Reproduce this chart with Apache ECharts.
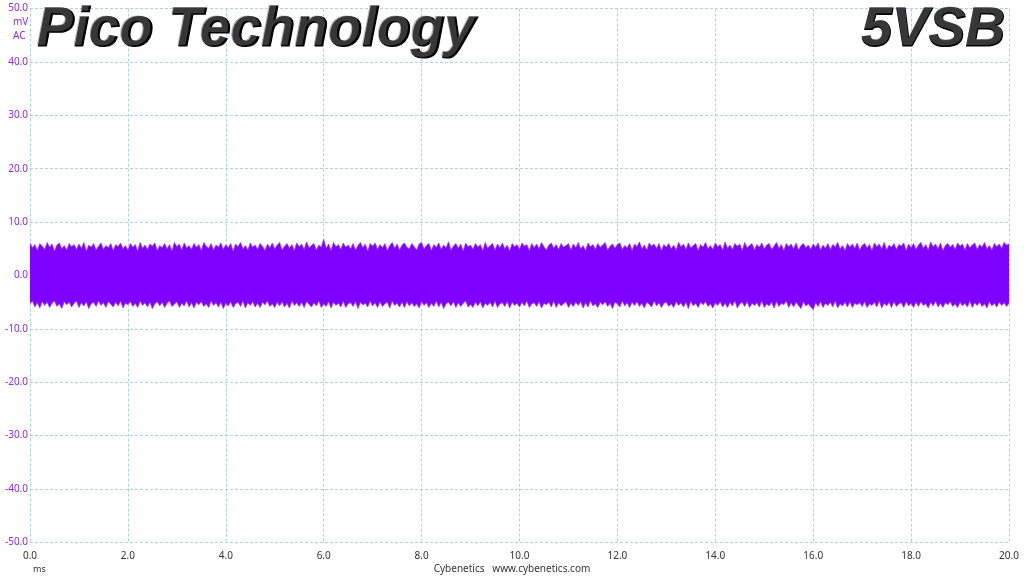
<!DOCTYPE html>
<html>
<head>
<meta charset="utf-8">
<script src="https://cdn.jsdelivr.net/npm/echarts@6/dist/echarts.min.js"></script>
<style>
html,body{margin:0;padding:0;background:#fff;}
#c{width:1024px;height:576px;}
</style>
</head>
<body>
<div id="c"></div>
<script>
// Sample step (ms) of the envelope readings
const stepMs = 0.05;
const xTicks = [0, 2, 4, 6, 8, 10, 12, 14, 16, 18, 20];
const yTicks = [-50, -40, -30, -20, -10, 0, 10, 20, 30, 40, 50];
const titleLeft = 'Pico Technology';
const titleRight = '5VSB';
const yUnit = 'mV';
const yCoupling = 'AC';
const xUnit = 'ms';
const footer = 'Cybenetics   www.cybenetics.com';

// Upper peaks of the ripple (mV), one every 0.05 ms
const upperPeaks = [
6.1,5.2,5.8,4.7,6.0,5.5,4.9,6.2,5.3,5.9,4.6,5.7,6.1,5.0,5.6,4.8,6.0,5.4,5.8,4.9,
5.9,5.1,6.2,4.6,5.7,5.3,6.0,4.8,5.5,6.1,4.9,5.6,5.2,6.0,4.7,5.8,5.4,6.1,5.0,5.6,
4.8,6.0,5.3,5.8,4.6,6.2,5.1,5.7,4.9,5.9,5.5,6.1,4.7,5.6,5.2,6.0,5.0,5.8,4.6,6.2,
5.4,5.9,4.8,6.1,5.2,5.6,4.9,6.0,5.3,5.8,4.7,6.2,5.5,5.1,6.0,4.8,5.7,5.3,6.1,4.9,
5.8,5.2,6.0,4.6,5.9,5.4,6.2,5.0,5.6,4.8,6.1,5.3,5.7,4.9,6.0,5.5,4.7,5.9,5.2,6.1,
5.0,5.7,6.2,4.8,5.5,6.0,5.1,5.8,4.7,6.1,5.4,5.9,4.9,6.3,5.2,5.6,6.0,4.8,5.7,5.3,
6.8,5.1,5.9,4.7,6.2,5.4,5.8,4.9,6.1,5.3,5.7,5.0,6.0,4.8,5.6,6.2,5.2,5.9,4.6,6.0,
5.5,6.1,4.9,5.8,5.2,6.0,4.7,5.6,6.2,5.1,5.9,4.8,5.7,6.1,5.3,5.0,6.0,5.4,4.8,5.9,
6.2,5.0,5.6,6.0,4.7,5.8,5.3,6.1,4.9,5.7,5.2,6.3,4.8,5.5,6.0,5.1,5.9,4.6,6.1,5.4,
5.7,4.9,6.0,5.3,5.8,4.7,6.2,5.1,5.6,6.0,4.8,5.9,5.2,6.1,5.0,5.7,4.6,6.0,5.4,5.8,
4.9,6.1,5.5,5.8,4.7,6.0,5.2,5.9,5.0,6.2,5.4,4.8,5.7,6.1,5.1,5.8,4.9,6.0,5.3,5.6,
6.0,4.8,5.9,5.2,6.2,5.0,5.6,4.7,6.1,5.4,5.8,4.9,6.0,5.3,5.7,6.2,4.8,5.5,5.9,5.1,
5.8,6.1,4.9,5.6,5.2,6.0,4.7,5.9,5.4,6.3,5.0,5.7,4.8,6.1,5.5,5.9,5.1,6.0,4.7,5.8,
5.3,6.0,5.0,5.7,4.8,6.2,5.4,5.9,4.9,6.1,5.2,5.6,6.0,4.7,5.8,5.3,6.2,5.0,5.6,4.9,
6.1,5.4,5.8,4.8,6.3,5.1,5.7,4.9,6.0,5.5,5.9,4.7,6.2,5.2,5.6,6.0,4.8,5.8,5.3,6.1,
5.0,5.7,6.0,4.9,5.5,6.2,5.1,5.8,4.7,6.0,5.4,5.9,5.0,6.1,4.8,5.6,6.0,5.2,5.7,4.9,
5.9,5.3,6.1,4.8,5.7,5.1,6.0,4.9,5.8,5.4,6.2,5.0,5.6,4.7,6.0,5.3,5.9,5.1,6.1,4.8,
5.6,6.0,5.2,5.8,4.7,6.1,5.4,5.9,5.0,6.2,4.8,5.7,5.3,6.0,4.9,5.8,5.5,6.1,4.7,5.9,
5.2,6.0,4.9,5.7,6.2,5.1,5.8,4.8,6.3,5.4,5.9,5.0,6.1,4.7,5.6,6.0,5.3,5.8,4.9,6.1,
5.5,5.9,4.8,6.0,5.2,5.7,6.1,4.9,5.8,5.3,6.2,5.0,5.6,4.8,6.0,5.4,5.9,5.1,6.2,5.7,
5.9
];

// Lower peaks of the ripple (mV), one every 0.05 ms
const lowerPeaks = [
-5.3,-4.8,-5.9,-5.1,-6.1,-4.9,-5.6,-5.0,-6.0,-5.2,-4.8,-5.8,-5.3,-6.2,-4.9,-5.5,-5.0,-5.9,-5.2,-4.8,
-6.0,-5.1,-5.7,-4.9,-6.2,-5.3,-5.0,-5.8,-4.8,-5.6,-5.1,-6.0,-4.9,-5.4,-5.9,-5.0,-5.7,-4.8,-6.1,-5.2,
-5.5,-4.9,-5.8,-5.2,-6.0,-4.8,-5.6,-5.1,-5.9,-5.0,-6.2,-5.3,-4.9,-5.7,-5.0,-6.0,-5.2,-4.8,-5.8,-5.4,
-4.9,-6.0,-5.2,-5.7,-4.8,-5.9,-5.1,-6.1,-5.0,-5.5,-4.9,-5.8,-5.3,-6.0,-4.8,-5.6,-5.1,-5.9,-5.0,-6.2,
-5.2,-5.7,-4.9,-6.0,-5.3,-5.0,-5.8,-4.8,-6.1,-5.1,-5.6,-4.9,-5.9,-5.2,-6.0,-5.0,-5.5,-4.8,-5.8,-5.3,
-6.0,-5.0,-5.7,-4.9,-5.9,-5.2,-6.1,-4.8,-5.6,-5.1,-5.8,-5.0,-6.0,-4.9,-5.4,-5.9,-5.1,-5.7,-4.8,-6.0,
-5.3,-5.8,-4.9,-6.1,-5.0,-5.6,-5.2,-5.9,-4.8,-6.0,-5.3,-5.1,-5.8,-4.9,-6.2,-5.0,-5.5,-5.2,-5.9,-4.8,
-5.7,-5.1,-6.0,-4.9,-5.8,-5.3,-5.0,-6.1,-4.8,-5.6,-5.2,-5.9,-5.0,-6.0,-4.9,-5.7,-5.1,-5.8,-5.3,-6.1,
-4.9,-5.6,-5.1,-6.0,-5.2,-5.8,-4.8,-5.9,-5.0,-6.2,-5.3,-5.0,-5.7,-4.9,-6.0,-5.1,-5.8,-5.2,-4.8,-5.9,
-5.4,-6.0,-5.0,-5.7,-4.9,-6.1,-5.2,-5.6,-5.0,-5.9,-4.8,-6.0,-5.3,-5.1,-5.8,-4.9,-6.1,-5.0,-5.6,-5.2,
-5.9,-5.0,-5.7,-4.8,-6.0,-5.3,-5.1,-5.8,-4.9,-6.1,-5.2,-5.5,-5.0,-5.9,-4.8,-6.0,-5.1,-5.7,-5.3,-4.9,
-6.0,-5.2,-5.8,-5.0,-5.6,-4.9,-6.1,-5.1,-5.9,-4.8,-5.7,-5.3,-6.0,-5.0,-5.5,-4.9,-5.8,-5.2,-6.2,-5.0,
-5.3,-5.9,-4.8,-5.7,-5.1,-6.0,-5.0,-5.6,-4.9,-5.8,-5.2,-6.1,-5.0,-5.4,-5.9,-4.8,-5.7,-5.1,-6.0,-5.2,
-5.0,-5.8,-5.3,-6.0,-4.9,-5.6,-5.1,-5.9,-5.0,-6.2,-4.8,-5.7,-5.2,-6.0,-5.0,-5.5,-4.9,-5.8,-5.3,-6.1,
-5.1,-5.6,-4.9,-5.9,-5.2,-6.0,-5.0,-5.7,-4.8,-6.1,-5.3,-5.0,-5.8,-4.9,-6.0,-5.2,-5.6,-5.1,-5.9,-4.8,
-6.0,-5.3,-5.7,-5.0,-6.1,-4.9,-5.8,-5.2,-5.5,-4.8,-6.0,-5.1,-5.9,-5.0,-5.6,-6.2,-4.9,-5.7,-5.3,-5.9,
-6.4,-5.1,-5.8,-4.9,-6.0,-5.2,-5.6,-5.0,-5.9,-4.8,-6.1,-5.3,-5.7,-5.0,-5.9,-4.9,-6.0,-5.2,-5.5,-5.1,
-5.8,-4.9,-6.0,-5.3,-5.6,-5.0,-5.9,-4.8,-6.1,-5.2,-5.7,-5.0,-6.0,-4.9,-5.8,-5.3,-5.1,-6.0,-4.9,-5.7,
-5.2,-6.0,-5.0,-5.8,-4.9,-5.6,-5.3,-6.1,-5.0,-5.7,-4.8,-5.9,-5.2,-6.0,-5.1,-5.5,-4.9,-5.8,-5.3,-6.0,
-5.0,-5.7,-5.2,-5.9,-4.8,-6.0,-5.1,-5.6,-5.0,-5.8,-5.3,-6.1,-4.9,-5.7,-5.2,-5.9,-5.0,-5.6,-5.1,-5.8,
-5.2
];

const purple = '#7f00ff';
const edgePurple = 'rgba(150,60,255,0.75)';
const labelPurple = '#8a2be2';
const gridColor = '#a9d6de';

const upperData = upperPeaks.map((v, i) => [+(i * stepMs).toFixed(2), v]);
const lowerData = lowerPeaks.map((v, i) => [+(i * stepMs).toFixed(2), v]);

const chart = echarts.init(document.getElementById('c'), null, {renderer: 'canvas'});

const titleFont = 'italic bold 55px "Liberation Sans", Arial, sans-serif';
const baseStyle = {font: titleFont, fill: '#000', stroke: '#000', lineWidth: 1.2};
const hiStyle = {font: titleFont, fill: 'rgba(110,110,110,0.5)'};

chart.setOption({
  animation: false,
  backgroundColor: '#fff',
  grid: {left: 30, right: 15, top: 8.6, bottom: 33.6, containLabel: false},
  xAxis: {
    type: 'value', min: 0, max: 20, interval: 2,
    axisLine: {show: false}, axisTick: {show: false},
    axisLabel: {color: '#333', fontSize: 10, fontFamily: 'Noto Sans', margin: 9,
      formatter: v => v.toFixed(1)},
    splitLine: {show: true, lineStyle: {color: gridColor, type: [3, 2], width: 1}}
  },
  yAxis: {
    type: 'value', min: -50, max: 50, interval: 10,
    axisLine: {show: false}, axisTick: {show: false},
    axisLabel: {color: labelPurple, fontSize: 10, fontFamily: 'Noto Sans', margin: 2,
      formatter: v => v.toFixed(1)},
    splitLine: {show: true, lineStyle: {color: gridColor, type: [3, 2], width: 1}}
  },
  series: [
    {
      type: 'line', data: upperData, showSymbol: false, sampling: 'none',
      lineStyle: {color: edgePurple, width: 1},
      areaStyle: {color: purple, opacity: 1, origin: -1},
      z: 3
    },
    {
      type: 'line', data: lowerData, showSymbol: false, sampling: 'none',
      lineStyle: {color: edgePurple, width: 1},
      areaStyle: {color: purple, opacity: 1, origin: 1},
      z: 3
    }
  ],
  graphic: [
    {type: 'text', left: 37, top: 3, z: 10, style: Object.assign({text: titleLeft}, baseStyle)},
    {type: 'text', left: 36, top: 2, z: 11, style: Object.assign({text: titleLeft}, hiStyle)},
    {type: 'text', right: 18, top: 3, z: 10, style: Object.assign({text: titleRight}, baseStyle)},
    {type: 'text', right: 19, top: 2, z: 11, style: Object.assign({text: titleRight}, hiStyle)},
    {type: 'text', left: 13, top: 17, z: 10, style: {
      text: yUnit, font: '10px "Noto Sans"', fill: labelPurple}},
    {type: 'text', left: 13, top: 31, z: 10, style: {
      text: yCoupling, font: '10px "Noto Sans"', fill: labelPurple}},
    {type: 'text', left: 33, top: 565, z: 10, style: {
      text: xUnit, font: '9px "Noto Sans"', fill: '#333'}},
    {type: 'text', left: 'center', top: 564, z: 10, style: {
      text: footer, font: '10px "Noto Sans"', fill: '#333'}}
  ]
});
</script>
</body>
</html>
